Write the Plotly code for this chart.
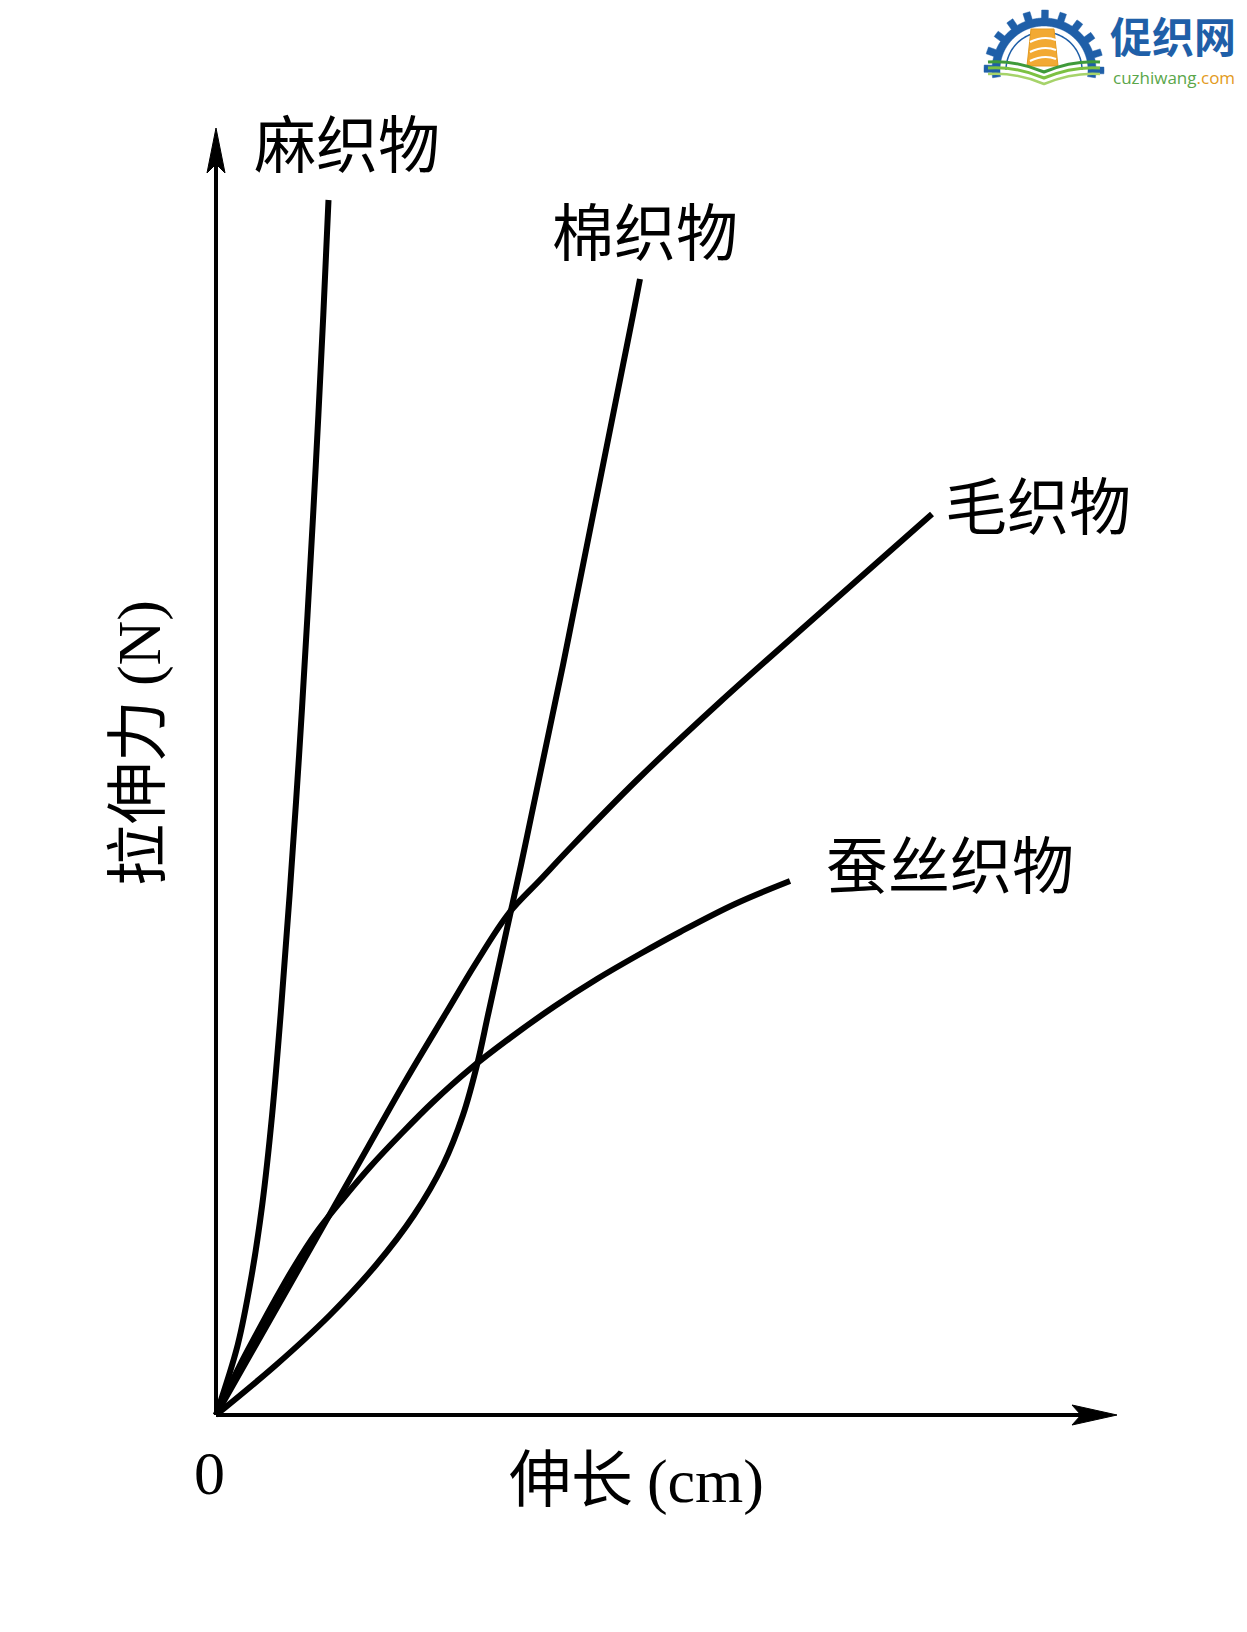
import numpy as np
import plotly.graph_objects as go

# ---------------- data (elongation, tensile force; arbitrary units) ----------------
flax_x = [0, 0.217, 0.357, 0.462, 0.561, 0.646, 0.736, 0.831, 0.915, 0.998, 1.073, 1.125]
flax_y = [0, 0.70, 1.40, 2.10, 3.00, 4.00, 5.20, 6.60, 8.00, 9.50, 11.00, 12.15]

cotton_x = [0, 0.60, 1.14, 1.60, 1.98, 2.27, 2.47, 2.61, 2.72, 2.83, 2.94, 3.05,
            3.155, 3.26, 3.365, 3.47, 3.57, 3.67, 3.77, 3.87, 3.97, 4.07, 4.17, 4.24]
cotton_y = [0, 0.5, 1.0, 1.5, 2.0, 2.5, 3.0, 3.5, 4.0, 4.5, 5.0, 5.5,
            6.0, 6.5, 7.0, 7.5, 8.0, 8.5, 9.0, 9.5, 10.0, 10.5, 11.0, 11.36]

wool_x = [0, 0.38, 0.76, 1.14, 1.52, 1.90, 2.30, 2.60, 2.93, 3.24, 3.56, 4.21,
          5.04, 6.04, 7.16]
wool_y = [0, 0.67, 1.34, 2.01, 2.68, 3.35, 4.02, 4.52, 5.02, 5.35, 5.69, 6.35,
          7.13, 8.02, 9.01]

silk_x = [0, 0.23, 0.41, 0.59, 0.78, 1.00, 1.26, 1.54, 1.86, 2.17, 2.54, 2.94,
          3.39, 3.81, 4.24, 4.64, 5.19, 5.74]
silk_y = [0, 0.48, 0.82, 1.15, 1.48, 1.82, 2.15, 2.48, 2.82, 3.13, 3.46, 3.77,
          4.09, 4.36, 4.61, 4.83, 5.11, 5.34]

series_names = ["麻织物", "棉织物", "毛织物", "蚕丝织物"]
x_title = "伸长"
x_unit = "(cm)"
y_title = "拉伸力"
y_unit = "(N)"
origin_label = "0"

# axis extents (data units)
X_END = 9.01
Y_END = 12.87

# ---------------- figure ----------------
W, H = 1247, 1632
X_RANGE = [-2.16, 10.31]
Y_RANGE = [-2.17, 14.15]

CJK = "Noto Sans CJK SC"
SERIF = "Liberation Serif, Times New Roman, serif"

fig = go.Figure()
for xs, ys in [(flax_x, flax_y), (cotton_x, cotton_y), (wool_x, wool_y), (silk_x, silk_y)]:
    fig.add_trace(go.Scatter(x=xs, y=ys, mode="lines",
                             line=dict(color="black", width=6, shape="spline", smoothing=1.0),
                             hoverinfo="skip", showlegend=False))

shapes = []
AW = 4
shapes.append(dict(type="line", x0=0, y0=0, x1=X_END - 0.35, y1=0,
                   line=dict(color="black", width=AW), layer="below"))
shapes.append(dict(type="line", x0=0, y0=0, x1=0, y1=Y_END - 0.35,
                   line=dict(color="black", width=AW), layer="below"))
HL, HW, NOTCH = 0.45, 0.10, 0.36
shapes.append(dict(type="path",
                   path=f"M{X_END},0 L{X_END-HL},{HW} L{X_END-NOTCH},0 L{X_END-HL},{-HW} Z",
                   fillcolor="black", line=dict(color="black", width=1)))
shapes.append(dict(type="path",
                   path=f"M0,{Y_END} L{HW*0.9},{Y_END-HL} L0,{Y_END-NOTCH} L{-HW*0.9},{Y_END-HL} Z",
                   fillcolor="black", line=dict(color="black", width=1)))

# ---------------- logo (decoration, pixel -> data helper) ----------------
def d(px, py):
    return (px - 216) / 100.0, (1415 - py) / 100.0

cx, cy = 1044, 70
r_in, r_out, r_tooth = 44, 52, 60
n_teeth = 11
pts = []
angles = np.linspace(np.pi + 0.15, -0.15, 400)
for a in angles:
    frac = ((np.pi + 0.15 - a) / (np.pi + 0.3)) * n_teeth
    r = r_tooth if 0.35 < (frac % 1.0) < 0.75 else r_out
    pts.append(d(cx + r * np.cos(a), cy - r * np.sin(a)))
for a in angles[::-1]:
    pts.append(d(cx + r_in * np.cos(a), cy - r_in * np.sin(a)))
gear_path = "M" + " L".join(f"{p[0]:.4f},{p[1]:.4f}" for p in pts) + " Z"
shapes.append(dict(type="path", path=gear_path, fillcolor="#1f5fa8",
                   line=dict(color="#1f5fa8", width=0.5)))
arc = [d(cx + 38 * np.cos(a), cy - 38 * np.sin(a)) for a in np.linspace(np.pi, 0, 60)]
shapes.append(dict(type="path", path="M" + " L".join(f"{p[0]:.4f},{p[1]:.4f}" for p in arc),
                   line=dict(color="#1f5fa8", width=1.5)))
sp = [d(1031, 29), d(1054, 29), d(1058, 66), d(1027, 66)]
shapes.append(dict(type="path", path="M" + " L".join(f"{p[0]:.4f},{p[1]:.4f}" for p in sp) + " Z",
                   fillcolor="#f2a933", line=dict(color="#e39a20", width=1)))
for yy in [38, 48, 57]:
    a0, a1, a2 = d(1030, yy + 4), d(1044, yy - 3), d(1056, yy + 2)
    shapes.append(dict(type="path",
                       path=f"M{a0[0]},{a0[1]} Q{a1[0]},{a1[1]} {a2[0]},{a2[1]}",
                       line=dict(color="white", width=2)))
for off, col, wdt in [(0, "#3f9a3a", 3), (6, "#7cc142", 3), (12, "#a6d36a", 2.5)]:
    a0, a1, a2, a3, a4 = d(988, 62 + off), d(1015, 60 + off), d(1044, 72 + off), d(1073, 60 + off), d(1100, 62 + off)
    shapes.append(dict(type="path",
                       path=f"M{a0[0]},{a0[1]} Q{a1[0]},{a1[1]} {a2[0]},{a2[1]} Q{a3[0]},{a3[1]} {a4[0]},{a4[1]}",
                       line=dict(color=col, width=wdt)))

ann = []
LBL = 62
label_pos = [(0.36, 12.74), (3.34, 11.86), (7.27, 9.12), (6.08, 5.53)]
for name, (lx, ly) in zip(series_names, label_pos):
    ann.append(dict(x=lx, y=ly, text=name, showarrow=False, xanchor="left", yanchor="middle",
                    font=dict(family=CJK, size=LBL, color="black")))
ann.append(dict(x=4.20, y=-0.60, showarrow=False, xanchor="center", yanchor="middle",
                text=f"{x_title} <span style='font-family:{SERIF}'>{x_unit}</span>",
                font=dict(family=CJK, size=LBL, color="black")))
ann.append(dict(x=-0.83, y=6.72, showarrow=False, xanchor="center", yanchor="middle",
                textangle=-90,
                text=f"{y_title} <span style='font-family:{SERIF}'>{y_unit}</span>",
                font=dict(family=CJK, size=LBL, color="black")))
ann.append(dict(x=-0.07, y=-0.58, text=origin_label, showarrow=False, xanchor="center", yanchor="middle",
                font=dict(family=SERIF, size=62, color="black")))
ann.append(dict(x=8.93, y=13.81, text="<b>促织网</b>", showarrow=False, xanchor="left", yanchor="middle",
                borderpad=0, font=dict(family=CJK, size=42, color="#1f5fa8")))
ann.append(dict(x=8.96, y=13.38,
                text="<span style='color:#5aa64a'>cuzhiwang</span><span style='color:#e39a20'>.com</span>",
                showarrow=False, xanchor="left", yanchor="middle", borderpad=0,
                font=dict(family="Open Sans, sans-serif", size=17)))

fig.update_layout(
    width=W, height=H, margin=dict(l=0, r=0, t=0, b=0, pad=0),
    paper_bgcolor="white", plot_bgcolor="white",
    xaxis=dict(range=X_RANGE, visible=False, fixedrange=True),
    yaxis=dict(range=Y_RANGE, visible=False, fixedrange=True),
    shapes=shapes, annotations=ann, showlegend=False,
)

fig.write_html("out.html", config={"displayModeBar": False},
               post_script="document.body.style.margin='0';document.body.style.overflow='hidden';")
